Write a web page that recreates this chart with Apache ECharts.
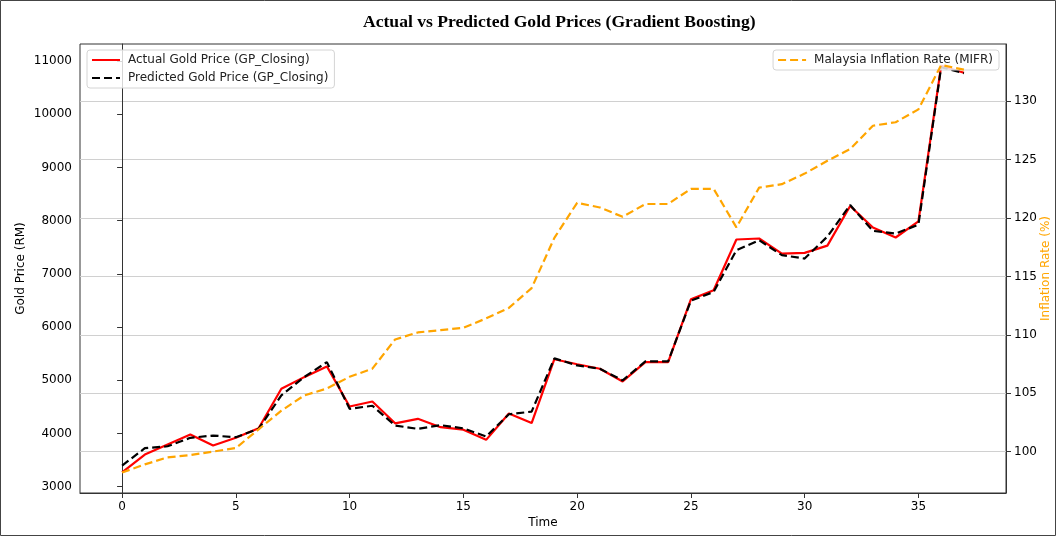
<!DOCTYPE html>
<html>
<head>
<meta charset="utf-8">
<title>Actual vs Predicted Gold Prices</title>
<script src="https://cdn.jsdelivr.net/npm/echarts@6/dist/echarts.min.js"></script>
<style>
  html, body { margin: 0; padding: 0; background: #fff; }
  #chart { width: 1057px; height: 537px; }
</style>
</head>
<body>
<div id="chart"></div>
<script>
// time index 0..37
const timeSteps = [0, 1, 2, 3, 4, 5, 6, 7, 8, 9, 10, 11, 12, 13, 14, 15, 16, 17, 18, 19,
  20, 21, 22, 23, 24, 25, 26, 27, 28, 29, 30, 31, 32, 33, 34, 35, 36, 37]

// GP_Closing (RM)
const actualPrice = [3269, 3603, 3791, 3979, 3772, 3917, 4098, 4840, 5058, 5260,
  4506, 4600, 4190, 4274, 4117, 4070, 3879, 4375, 4195, 5395,
  5300, 5215, 4977, 5341, 5341, 6520, 6691, 7645, 7664, 7381,
  7393, 7530, 8274, 7871, 7683, 7986, 10909, 10780]

const predictedPrice = [3395, 3722, 3759, 3917, 3960, 3929, 4086, 4714, 5058, 5340,
  4462, 4520, 4149, 4086, 4155, 4095, 3942, 4360, 4410, 5410,
  5278, 5215, 4996, 5353, 5353, 6494, 6660, 7444, 7632, 7350,
  7287, 7700, 8293, 7808, 7758, 7923, 10884, 10772]

// MIFR (%)
const inflationRate = [98.2, 98.9, 99.5, 99.7, 100.0, 100.3, 101.9, 103.5, 104.8, 105.4,
  106.4, 107.1, 109.6, 110.2, 110.4, 110.6, 111.4, 112.3, 114.0, 118.3,
  121.3, 120.9, 120.1, 121.2, 121.2, 122.5, 122.5, 119.2, 122.6, 122.9,
  123.8, 124.9, 125.9, 127.9, 128.2, 129.3, 133.1, 132.7]

const xTicks = [0, 5, 10, 15, 20, 25, 30, 35]
const priceTicks = [3000, 4000, 5000, 6000, 7000, 8000, 9000, 10000, 11000]
const rateTicks = [100, 105, 110, 115, 120, 125, 130]

const names = ['Actual Gold Price (GP_Closing)', 'Predicted Gold Price (GP_Closing)', 'Malaysia Inflation Rate (MIFR)']

function pairs(ys) {
  return timeSteps.map((t, i) => [t, ys[i]])
}

const font = 'DejaVu Sans'
const chart = echarts.init(document.getElementById('chart'))

// shared legend look (matplotlib style box)
const legendBox = {
  itemWidth: 28,
  itemHeight: 12,
  padding: [4, 6, 4, 4],
  backgroundColor: 'rgba(255,255,255,0.8)',
  borderColor: '#d4d4d4',
  borderWidth: 1,
  borderRadius: 3,
  itemStyle: { opacity: 0 },
  textStyle: { fontFamily: font, fontSize: 12, color: '#222', padding: [0, 0, 0, 3] }
}

chart.setOption({
  animation: false,
  backgroundColor: '#fff',
  title: {
    text: 'Actual vs Predicted Gold Prices (Gradient Boosting)',
    left: 358,
    top: 8,
    textStyle: {
      fontFamily: 'Liberation Serif',
      fontWeight: 'bold',
      fontSize: 17.6,
      color: '#000'
    }
  },
  grid: {
    left: 80,
    right: 51,
    top: 44,
    bottom: 44,
    outerBoundsMode: 'none',
    containLabel: false,
    show: true,
    borderColor: '#333',
    borderWidth: 1
  },
  legend: [
    Object.assign({}, legendBox, {
      data: [names[0], names[1]],
      orient: 'vertical',
      left: 87,
      top: 50,
      itemGap: 6
    }),
    Object.assign({}, legendBox, {
      data: [names[2]],
      right: 58,
      top: 50
    })
  ],
  xAxis: {
    type: 'value',
    min: -1.85,
    max: 38.85,
    name: 'Time',
    nameLocation: 'middle',
    nameGap: 24,
    nameMoveOverlap: false,
    nameTextStyle: { fontFamily: font, fontSize: 12, color: '#000' },
    axisLine: { show: true, lineStyle: { color: '#333' } },
    axisTick: { show: true, length: 5, customValues: xTicks, lineStyle: { color: '#333' } },
    axisLabel: { customValues: xTicks, fontFamily: font, fontSize: 12, color: '#000', margin: 8 },
    splitLine: { show: false }
  },
  yAxis: [
    {
      type: 'value',
      position: 'left',
      min: 2880,
      max: 11320,
      name: 'Gold Price (RM)',
      nameLocation: 'middle',
      nameRotate: 90,
      nameGap: 53,
      nameMoveOverlap: false,
      nameTextStyle: { fontFamily: font, fontSize: 12, color: '#000' },
      axisLine: { show: true, lineStyle: { color: '#333' } },
      axisTick: { show: true, length: 5, customValues: priceTicks, lineStyle: { color: '#333' } },
      axisLabel: {
        customValues: priceTicks,
        formatter: v => String(v),
        fontFamily: font, fontSize: 12, color: '#000', margin: 8
      },
      splitLine: { show: false }
    },
    {
      type: 'value',
      position: 'right',
      min: 96.45,
      max: 134.9,
      name: 'Inflation Rate (%)',
      nameLocation: 'middle',
      nameRotate: 90,
      nameGap: 34,
      nameMoveOverlap: false,
      nameTextStyle: { fontFamily: font, fontSize: 12, color: '#ffa500' },
      axisLine: { show: true, lineStyle: { color: '#333' } },
      axisTick: { show: true, length: 5, customValues: rateTicks, lineStyle: { color: '#333' } },
      axisLabel: { customValues: rateTicks, fontFamily: font, fontSize: 12, color: '#000', margin: 8 },
      splitLine: { show: true, lineStyle: { color: '#d0d0d0', width: 1 } }
    }
  ],
  series: [
    {
      name: names[0],
      type: 'line',
      yAxisIndex: 0,
      data: pairs(actualPrice),
      showSymbol: false,
      symbol: 'none',
      z: 2,
      itemStyle: { color: '#ff0000' },
      lineStyle: { color: '#ff0000', width: 2.2 }
    },
    {
      name: names[1],
      type: 'line',
      yAxisIndex: 0,
      data: pairs(predictedPrice),
      showSymbol: false,
      symbol: 'none',
      z: 3,
      itemStyle: { color: '#000' },
      lineStyle: { color: '#000', width: 2.2, type: [8, 4] }
    },
    {
      name: names[2],
      type: 'line',
      yAxisIndex: 1,
      data: pairs(inflationRate),
      showSymbol: false,
      symbol: 'none',
      z: 4,
      itemStyle: { color: '#ffa500' },
      lineStyle: { color: '#ffa500', width: 2.2, type: [8, 4] }
    }
  ],
  graphic: [
    {
      type: 'rect',
      silent: true,
      shape: { x: 0.5, y: 0.5, width: 1055, height: 535 },
      style: { fill: 'none', stroke: '#444', lineWidth: 1 }
    }
  ]
})
</script>
</body>
</html>
